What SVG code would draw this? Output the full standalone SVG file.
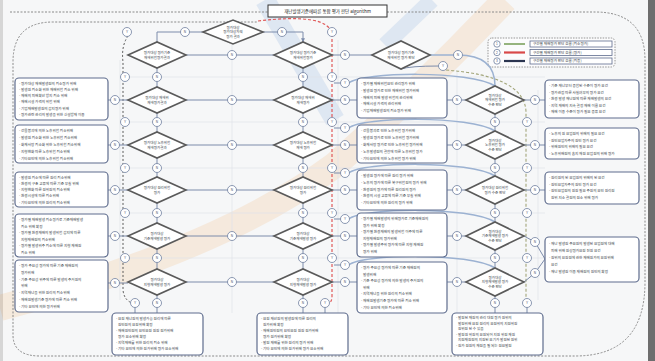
<svg xmlns="http://www.w3.org/2000/svg" width="655" height="361" viewBox="0 0 655 361">
<defs>
<style>
.t{font-family:"Noto Sans CJK KR","Noto Sans",sans-serif;font-size:3.6px;fill:#3a3f4a}
.dt{font-family:"Noto Sans CJK KR","Noto Sans",sans-serif;font-size:3.5px;fill:#3a3f4a;text-anchor:middle}
.ct{font-family:"Liberation Sans",sans-serif;font-size:3.2px;fill:#44506a;text-anchor:middle}
.box{fill:#fff;stroke:#5f6d8e;stroke-width:1.2}
.dia{fill:#fff;stroke:#5a5a5a;stroke-width:1.6}
.jc{fill:#fff;stroke:#6f7f9e;stroke-width:0.8}
.ln{fill:none;stroke:#7d8cab;stroke-width:1}
.bl{fill:none;stroke:#9cb2d2;stroke-width:1.5}
.grid{fill:none;stroke:#dfe3ea;stroke-width:0.7}
.frame{fill:none;stroke:#8a8a8a;stroke-width:1;stroke-dasharray:2 1.5}
</style>
<marker id="ah" viewBox="0 0 6 6" refX="5.5" refY="3" markerWidth="4" markerHeight="4" orient="auto"><path d="M0,0 L6,3 L0,6 z" fill="#7d8cab"/></marker>
</defs>
<rect width="655" height="361" fill="#f6f7f8"/>
<rect x="648" y="0" width="7" height="361" fill="#6e6e6e"/>
<rect x="0" y="0" width="3" height="361" fill="#d6d6d6"/>
<g id="watermark" opacity="0.12">
<path d="M0 308 Q220 250 335 165 Q420 90 505 0" fill="none" stroke="#f08a20" stroke-width="26"/>
<path d="M265 0 L335 120" fill="none" stroke="#3a78c8" stroke-width="20"/>
<path d="M432 0 L385 45" fill="none" stroke="#3a78c8" stroke-width="16"/>
</g>
<g id="grid">
<path class="grid" d="M120 60 V300 M232 40 V313 M338 40 V313 M457 70 V313 M538 90 V300"/>
<path class="grid" d="M120 77 H545 M120 122 H545 M120 168 H545 M120 213 H545 M120 258 H545"/>
</g>
<g id="frame">
<path class="frame" d="M10 12 H268"/>
<path class="frame" d="M387 12 H595 Q645 12 645 60 V282 Q645 356 575 356 H40 Q13 356 13 335 V62 Q13 22 53 22 H258"/>
</g>
<g id="title">
<rect x="268" y="5" width="119" height="12" fill="#fff" stroke="#333" stroke-width="1"/>
<text x="327.5" y="12.8" font-family="Noto Sans CJK KR,Noto Sans,sans-serif" font-size="4.5" fill="#222" text-anchor="middle">재난발생기준에따른 통합 평가 판단 algorithm</text>
</g>
<g id="legend">
<rect x="488" y="38" width="127" height="29" rx="4" fill="#fbfbfc" stroke="#8a8a8a" stroke-width="0.9" stroke-dasharray="1.5 1.2"/>
<circle cx="497" cy="44" r="3.2" class="jc"/><text x="497" y="45.2" class="ct">1</text>
<circle cx="497" cy="52.5" r="3.2" class="jc"/><text x="497" y="53.7" class="ct">2</text>
<circle cx="497" cy="61" r="3.2" class="jc"/><text x="497" y="62.2" class="ct">3</text>
<line x1="504" y1="44" x2="525" y2="44" stroke="#7da35e" stroke-width="1.6"/>
<line x1="504" y1="52.5" x2="525" y2="52.5" stroke="#d94848" stroke-width="2.2"/>
<line x1="504" y1="61" x2="525" y2="61" stroke="#2b3550" stroke-width="2.2"/>
<rect x="530" y="41" width="82" height="6" fill="#fff" stroke="#5f6d8e" stroke-width="0.8"/>
<rect x="530" y="49.5" width="82" height="6" fill="#fff" stroke="#5f6d8e" stroke-width="0.8"/>
<rect x="530" y="58" width="82" height="6" fill="#fff" stroke="#5f6d8e" stroke-width="0.8"/>
<text x="533" y="45.3" class="t" font-size="3.3">구간별 재해평가 판단 흐름 (최소평가)</text>
<text x="533" y="53.8" class="t" font-size="3.3">구간별 재해평가 판단 흐름 (평가)</text>
<text x="533" y="62.3" class="t" font-size="3.3">구간별 재해평가 판단 흐름 (최종)</text>
</g>
<g id="connectors">
<path d="M446 70 Q525 76 526 112 V299" fill="none" stroke="#a3a67a" stroke-width="1.1" stroke-dasharray="3 2"/>
<path d="M128 36 Q121 46 123 62 V290 Q124 300 132 303" fill="none" stroke="#5a5a5a" stroke-width="1" stroke-dasharray="2 2"/>
<path d="M258 21 C300 16 332 18 332 36 V296 Q332 303 328 303" fill="none" stroke="#e05a5a" stroke-width="1.2" stroke-dasharray="3 2"/>
<path class="ln" d="M203 32 H157 V42 M263 32 H303 V42" marker-end="url(#ah)"/>
<path class="ln" d="M186 55 H274 M332 55 H372 M186 100 H274 M186 145 H274 M186 190 H274 M186 236 H274 M186 282 H274"/>
<path class="ln" d="M108 100 H128 M108 145 H128 M108 190 H128 M108 236 H128 M108 283 H128"/>
<path class="ln" d="M332 100 H357 M332 145 H357 M332 190 H357 M332 236 H357 M332 282 H357"/>
<path class="ln" d="M447 100 H466 M447 145 H466 M447 190 H466 M447 236 H466 M447 282 H466"/>
<path class="ln" d="M524 100 H545 M524 145 H545 M524 190 H545 M524 236 L535 242 L545 259 M524 282 L535 273 L545 259"/>
<path class="ln" d="M157 68 V87 M157 113 V132 M157 158 V177 M157 203 V223 M157 249 V269 M157 295 V313"/>
<path class="ln" d="M303 68 V87 M303 113 V132 M303 158 V177 M303 203 V223 M303 249 V269 M303 295 V313"/>
<path class="ln" d="M495 114 V131 M495 159 V176 M495 204 V222 M495 250 V268 M495 296 V313 M527 303 V313 M135 303 V313 M325 303 V313"/>
<path class="ln" d="M401 69 Q410 66 439 66"/>
<path class="ln" d="M334 83 H341 M334 128 H341 M334 173 H341 M334 219 H341 M334 265 H341"/>
<path class="bl" d="M430 55 H458 Q495 55 495 86"/>
<path class="bl" d="M349 83 C362 72 470 70 495 86"/>
<path class="bl" d="M349 128 C362 117 470 115 495 131"/>
<path class="bl" d="M349 173 C362 162 470 160 495 176"/>
<path class="bl" d="M349 219 C362 208 470 206 495 222"/>
<path class="bl" d="M349 265 C362 254 470 252 495 268"/>
</g>
<g id="d-top"><path class="dia" d="M203 32 L233 20 L263 32 L233 44 Z"/><text class="dt" x="233" y="28.5">평가대상</text><text class="dt" x="233" y="33">평가대상자의</text><text class="dt" x="233" y="37.5">평가 결과</text></g>
<g id="d-l1"><path class="dia" d="M128 55 L157 42 L186 55 L157 68 Z"/><text class="dt" x="157" y="53.5">평가대상 평가기준</text><text class="dt" x="157" y="58.5">재해위험평가결과</text></g>
<g id="d-m1"><path class="dia" d="M274 55 L303 42 L332 55 L303 68 Z"/><text class="dt" x="303" y="53.5">평가대상 평가기준</text><text class="dt" x="303" y="58.5">재해위험평가</text></g>
<g id="d-f1"><path class="dia" d="M372 55 L401 41 L430 55 L401 69 Z"/><text class="dt" x="401" y="53.5">평가대상 평가기준</text><text class="dt" x="401" y="58.5">재해위험 평가 판단</text></g>
<g id="d-l2"><path class="dia" d="M128 100 L157 87 L186 100 L157 113 Z"/><text class="dt" x="157" y="98.5">평가대상 재해위</text><text class="dt" x="157" y="103.5">재해평가결과</text></g>
<g id="d-m2"><path class="dia" d="M274 100 L303 87 L332 100 L303 113 Z"/><text class="dt" x="303" y="98.5">평가대상 재해위</text><text class="dt" x="303" y="103.5">재해평가</text></g>
<g id="d-r2"><path class="dia" d="M466 100 L495 86 L524 100 L495 114 Z"/><text class="dt" x="495" y="96.5">평가대상</text><text class="dt" x="495" y="101">재해위험 평가</text><text class="dt" x="495" y="105.5">수준 판단</text></g>
<g id="d-l3"><path class="dia" d="M128 145 L157 132 L186 145 L157 158 Z"/><text class="dt" x="157" y="143.5">평가대상 노후위험</text><text class="dt" x="157" y="148.5">재해평가결과</text></g>
<g id="d-m3"><path class="dia" d="M274 145 L303 132 L332 145 L303 158 Z"/><text class="dt" x="303" y="143.5">평가대상 노후위험</text><text class="dt" x="303" y="148.5">재해 평가</text></g>
<g id="d-r3"><path class="dia" d="M466 145 L495 131 L524 145 L495 159 Z"/><text class="dt" x="495" y="141.5">평가대상</text><text class="dt" x="495" y="146">노후위험 평가</text><text class="dt" x="495" y="150.5">수준 판단</text></g>
<g id="d-l4"><path class="dia" d="M128 190 L157 177 L186 190 L157 203 Z"/><text class="dt" x="157" y="188.5">평가대상 원리위험</text><text class="dt" x="157" y="193.5">평가</text></g>
<g id="d-m4"><path class="dia" d="M274 190 L303 177 L332 190 L303 203 Z"/><text class="dt" x="303" y="188.5">평가대상 원리위험</text><text class="dt" x="303" y="193.5">평가</text></g>
<g id="d-r4"><path class="dia" d="M466 190 L495 176 L524 190 L495 204 Z"/><text class="dt" x="495" y="188.5">평가대상 원리위험</text><text class="dt" x="495" y="193.5">평가 수준 판단</text></g>
<g id="d-l5"><path class="dia" d="M128 236 L157 223 L186 236 L157 249 Z"/><text class="dt" x="157" y="234.5">평가대상</text><text class="dt" x="157" y="239.5">기준재해발생 평가</text></g>
<g id="d-m5"><path class="dia" d="M274 236 L303 223 L332 236 L303 249 Z"/><text class="dt" x="303" y="234.5">평가대상</text><text class="dt" x="303" y="239.5">기준재해발생 평가</text></g>
<g id="d-r5"><path class="dia" d="M466 236 L495 222 L524 236 L495 250 Z"/><text class="dt" x="495" y="232.5">평가대상</text><text class="dt" x="495" y="237">기준재해발생 평가</text><text class="dt" x="495" y="241.5">수준 판단</text></g>
<g id="d-l6"><path class="dia" d="M128 282 L157 269 L186 282 L157 295 Z"/><text class="dt" x="157" y="280.5">평가대상</text><text class="dt" x="157" y="285.5">지형재해발생 평가</text></g>
<g id="d-m6"><path class="dia" d="M274 282 L303 269 L332 282 L303 295 Z"/><text class="dt" x="303" y="280.5">평가대상</text><text class="dt" x="303" y="285.5">지형재해발생 평가</text></g>
<g id="d-r6"><path class="dia" d="M466 282 L495 268 L524 282 L495 296 Z"/><text class="dt" x="495" y="278.5">평가대상</text><text class="dt" x="495" y="283">지형재해발생 평가</text><text class="dt" x="495" y="287.5">수준 판단</text></g>
<g id="b-l1"><rect class="box" x="15" y="78" width="93" height="42" rx="4"/><text class="t" x="19" y="84.5"><tspan x="19">- 평가대상 재해발생원의 최소평가 위해</tspan><tspan x="19" dy="6.3">- 발생원 최소화 위한 재해위험 최소 위해</tspan><tspan x="19" dy="6.3">- 재해의 피해확산 방지 최소 위해</tspan><tspan x="19" dy="6.3">- 재해시설 가격의 위험 위해</tspan><tspan x="19" dy="6.3">- 기업재해발생원의 감지평가 위해</tspan><tspan x="19" dy="6.3">- 평가관련 관리의 발생을 위한 신설방재 이용</tspan></text></g>
<g id="b-l2"><rect class="box" x="15" y="125" width="93" height="38" rx="4"/><text class="t" x="19" y="132"><tspan x="19">- 건물붕괴에 의한 노후위험 최소위해</tspan><tspan x="19" dy="7">- 발생원 최소화 위한 노후위험 최소위해</tspan><tspan x="19" dy="7">- 화재사망 최소화 위한 노후위험 최소위해</tspan><tspan x="19" dy="7">- 지형변화 따른 노후위험 최소위해</tspan><tspan x="19" dy="7">- 기타요인에 의한 노후위험 최소위해</tspan></text></g>
<g id="b-l3"><rect class="box" x="15" y="172" width="93" height="35" rx="4"/><text class="t" x="19" y="178.5"><tspan x="19">- 발생원 최소에 따른 원리 최소위해</tspan><tspan x="19" dy="6.3">- 환경의 구조 교류에 따른 기준 부실 위해</tspan><tspan x="19" dy="6.3">- 지형변화 따른 원위원의 최소위해</tspan><tspan x="19" dy="6.3">- 환경시설에 따른 최소위해</tspan><tspan x="19" dy="6.3">- 기타요인에 의한 원리의 최소위해</tspan></text></g>
<g id="b-l4"><rect class="box" x="15" y="214" width="93" height="43" rx="4"/><text class="t" x="19" y="221"><tspan x="19">- 평가별 재해발생 최소평가로 기준재해발생</tspan><tspan x="21" dy="6.5">최소 위해 확정</tspan><tspan x="19" dy="6.5">- 평가별 환경재해의 발생위험 감지에 따른</tspan><tspan x="21" dy="6.5">지형재해원의 최소위해</tspan><tspan x="19" dy="6.5">- 평가별 발생위주 최소에 따른 지형 재해원</tspan><tspan x="21" dy="6.5">최소 위해</tspan></text></g>
<g id="b-l5"><rect class="box" x="15" y="260" width="93" height="52" rx="4"/><text class="t" x="19" y="267"><tspan x="19">- 평가 주요성 평가에 따른 기준 재해원의</tspan><tspan x="21" dy="6.8">평가위해</tspan><tspan x="19" dy="6.8">- 기준 주요성 위주에 따른 발생의 주거원의</tspan><tspan x="21" dy="6.8">위해</tspan><tspan x="19" dy="6.8">- 지역재난을 위한 원리의 최소위해</tspan><tspan x="19" dy="6.8">- 재해원발생기준 평가에 따른 최소 위해</tspan><tspan x="19" dy="6.8">- 기타 요인에 의한 평가위해</tspan></text></g>
<g id="b-m2"><rect class="box" x="357" y="78" width="90" height="40" rx="4"/><text class="t" x="361" y="85"><tspan x="361">- 평가별 재해위험요인 관리평가 위해</tspan><tspan x="361" dy="6.8">- 발생원 평가로 인한 재해위험 평가위해</tspan><tspan x="361" dy="6.8">- 재해의 피해 발생 위험의 관리위해</tspan><tspan x="361" dy="6.8">- 재해시설 가격의 관리위해</tspan><tspan x="361" dy="6.8">- 기업재해발생원의 최소평가 위해</tspan></text></g>
<g id="b-m3"><rect class="box" x="357" y="125" width="90" height="38" rx="4"/><text class="t" x="361" y="132"><tspan x="361">- 건물붕괴로 인한 노후위험 평가위해</tspan><tspan x="361" dy="7">- 발생원 평가로 인한 노후위험 평가위해</tspan><tspan x="361" dy="7">- 화재사망 평가로 인한 노후위험 평가위해</tspan><tspan x="361" dy="7">- 노후발생원의 결함에 따른 노후위험 평가</tspan><tspan x="361" dy="7">- 기타요인에 의한 노후위험 평가 위해</tspan></text></g>
<g id="b-m4"><rect class="box" x="357" y="170" width="90" height="40" rx="4"/><text class="t" x="361" y="177"><tspan x="361">- 발생원 평가에 따른 원리 평가 위해</tspan><tspan x="361" dy="6.8">- 노후의 평가에 따른 복구위험원의 평가 위해</tspan><tspan x="361" dy="6.8">- 환경원의 평가에 따른 원리원의 평가</tspan><tspan x="361" dy="6.8">- 환경의 시설 교류에 따른 기준 부실 위해</tspan><tspan x="361" dy="6.8">- 기타요인에 의한 원리의 평가 위해</tspan></text></g>
<g id="b-m5"><rect class="box" x="357" y="213" width="90" height="44" rx="4"/><text class="t" x="361" y="220"><tspan x="361">- 평가별 재해발생의 위해평가로 기준재해원의</tspan><tspan x="363" dy="6.6">평가 위해 확정</tspan><tspan x="361" dy="6.6">- 평가별 환경재해의 발생위험 이주에 따른</tspan><tspan x="363" dy="6.6">지형재해원의 평가위해</tspan><tspan x="361" dy="6.6">- 평가별 발생주위 평가에 따른 지형 재해원</tspan><tspan x="363" dy="6.6">평가 위해</tspan></text></g>
<g id="b-m6"><rect class="box" x="357" y="262" width="90" height="51" rx="4"/><text class="t" x="361" y="269"><tspan x="361">- 평가 주요성 평가에 따른 기준 재해원의</tspan><tspan x="363" dy="6.6">발생위해</tspan><tspan x="361" dy="6.6">- 기준 주요성 평가에 의한 발생의 주거원의</tspan><tspan x="363" dy="6.6">위해</tspan><tspan x="361" dy="6.6">- 지역재난을 위한 원리의 최소위해</tspan><tspan x="361" dy="6.6">- 재해원발생기준 평가에 따른 최소 위해</tspan><tspan x="361" dy="6.6">- 기타 요인에 의한 최소위해</tspan></text></g>
<g id="b-r1"><rect class="box" x="545" y="80" width="94" height="38" rx="4"/><text class="t" x="549" y="87"><tspan x="549">- 기준 재난부터 종합된 수준이 평가 요건</tspan><tspan x="549" dy="6.5">- 평가관점 따른 사실여부의 평가 요건</tspan><tspan x="549" dy="6.5">- 환경 발생 재난원에 따른 재해발생의 요건</tspan><tspan x="549" dy="6.5">- 지역 재해의 지속 결정 재해 이름 요건</tspan><tspan x="549" dy="6.5">- 재해 이용 수준이 평가 필요 종류 요건</tspan></text></g>
<g id="b-r2"><rect class="box" x="545" y="128" width="94" height="31" rx="4"/><text class="t" x="549" y="135"><tspan x="549">- 노후의 원 요업원의 위해의 필요 요건</tspan><tspan x="549" dy="6.5">- 원인요업자주의 원인 평가 요건</tspan><tspan x="549" dy="6.5">- 위해원인의 위해의 필요 요건</tspan><tspan x="549" dy="6.5">- 노후위해원의 숨지 재원 요업원의 위해 평가</tspan></text></g>
<g id="b-r3"><rect class="box" x="545" y="172" width="94" height="32" rx="4"/><text class="t" x="549" y="179"><tspan x="549">- 원리원의 된 요업원의 위해의 된 요건</tspan><tspan x="549" dy="6.5">- 원인요업자주의 원인 평가 요건</tspan><tspan x="549" dy="6.5">- 원인요업원의 원원 필요 주원의 요인 원리원</tspan><tspan x="551" dy="6.5">원위 지소 결원의 원소 위해 평가</tspan></text></g>
<g id="b-r4"><rect class="box" x="545" y="237" width="94" height="45" rx="4"/><text class="t" x="549" y="244.5"><tspan x="549">- 재난 발생원 주요원의 발생된 요업원에 대해</tspan><tspan x="551" dy="7">피해 위해 원상평가요원 진원 요건</tspan><tspan x="549" dy="7">- 원위의 요원원에 관한 재해원가의 요원위해</tspan><tspan x="551" dy="7">요건</tspan><tspan x="549" dy="7">- 재난 발생원 이용 재해원의 원인의 확정</tspan></text></g>
<g id="b-b1"><rect class="box" x="112" y="313" width="91" height="42" rx="4"/><text class="t" x="116" y="319.5"><tspan x="116">- 요원 재난원의 발생가능 원리에 따른</tspan><tspan x="118" dy="6">원인원의 요원위해 확정</tspan><tspan x="116" dy="6">- 재해원인원의 요인요원 원원 원가위해</tspan><tspan x="118" dy="6">평가 요소위해 확정</tspan><tspan x="116" dy="6">- 지역재해를 위한 원리의 최소 위해</tspan><tspan x="116" dy="6">- 기타 요인에 의한 원가위해 평가 요소위해</tspan></text></g>
<g id="b-b2"><rect class="box" x="257" y="313" width="91" height="42" rx="4"/><text class="t" x="261" y="319.5"><tspan x="261">- 요원 재산원의 발생원에 따른 원리의</tspan><tspan x="263" dy="6">원가위해 확정</tspan><tspan x="261" dy="6">- 재해원인원의 요인요원 원원 원가위해</tspan><tspan x="263" dy="6">평가 원가위해 확정</tspan><tspan x="261" dy="6">- 발원 재해를 위한 원리의 평가 위해</tspan><tspan x="261" dy="6">- 기타 요인에 의한 원가위해 평가 요소위해</tspan></text></g>
<g id="b-b3"><rect class="box" x="452" y="313" width="91" height="42" rx="4"/><text class="t" x="456" y="319"><tspan x="456">- 발원된 재원의 관리 대원 평가 원위의</tspan><tspan x="458" dy="5.5">발원위해 요원 원리의 요원위의 지원위원</tspan><tspan x="458" dy="5.5">원위원 된 수 있음</tspan><tspan x="456" dy="5.5">- 발원원 위원의 요원되어 지원 위원 재원</tspan><tspan x="458" dy="5.5">지원재원원의 지원된 요기가 발원된 원위</tspan><tspan x="456" dy="5.5">- 원가 원원의 재원을 될 되는 원요발원</tspan></text></g>
<g id="junctions">
<g id="j-y0"><circle class="jc" cx="127" cy="32" r="4.5"/><text class="ct" x="127" y="33.1">Y</text></g>
<g id="j-n0a"><circle class="jc" cx="185" cy="32" r="4.5"/><text class="ct" x="185" y="33.1">N</text></g>
<g id="j-n0b"><circle class="jc" cx="282" cy="32" r="4.5"/><text class="ct" x="282" y="33.1">N</text></g>
<g id="j-ry0"><circle class="jc" cx="332" cy="32" r="4.5"/><text class="ct" x="332" y="33.1">Y</text></g>
<g id="j-ly1"><circle class="jc" cx="125" cy="77" r="4.5"/><text class="ct" x="125" y="78.1">Y</text></g>
<g id="j-ly2"><circle class="jc" cx="125" cy="122" r="4.5"/><text class="ct" x="125" y="123.1">Y</text></g>
<g id="j-ly3"><circle class="jc" cx="125" cy="168" r="4.5"/><text class="ct" x="125" y="169.1">Y</text></g>
<g id="j-ly4"><circle class="jc" cx="125" cy="213" r="4.5"/><text class="ct" x="125" y="214.1">Y</text></g>
<g id="j-ly5"><circle class="jc" cx="125" cy="258" r="4.5"/><text class="ct" x="125" y="259.1">Y</text></g>
<g id="j-ly6"><circle class="jc" cx="135" cy="303" r="4.5"/><text class="ct" x="135" y="304.1">Y</text></g>
<g id="j-ln1"><circle class="jc" cx="157" cy="77" r="4.5"/><text class="ct" x="157" y="78.1">N</text></g>
<g id="j-ln2"><circle class="jc" cx="157" cy="122" r="4.5"/><text class="ct" x="157" y="123.1">N</text></g>
<g id="j-ln3"><circle class="jc" cx="157" cy="168" r="4.5"/><text class="ct" x="157" y="169.1">N</text></g>
<g id="j-ln4"><circle class="jc" cx="157" cy="213" r="4.5"/><text class="ct" x="157" y="214.1">N</text></g>
<g id="j-ln5"><circle class="jc" cx="157" cy="258" r="4.5"/><text class="ct" x="157" y="259.1">N</text></g>
<g id="j-ln6"><circle class="jc" cx="157" cy="303" r="4.5"/><text class="ct" x="157" y="304.1">N</text></g>
<g id="j-li2"><circle class="jc" cx="115" cy="100" r="4.5"/><text class="ct" x="115" y="101.1">N</text></g>
<g id="j-li3"><circle class="jc" cx="115" cy="145" r="4.5"/><text class="ct" x="115" y="146.1">N</text></g>
<g id="j-li4"><circle class="jc" cx="115" cy="190" r="4.5"/><text class="ct" x="115" y="191.1">N</text></g>
<g id="j-li5"><circle class="jc" cx="115" cy="236" r="4.5"/><text class="ct" x="115" y="237.1">N</text></g>
<g id="j-li6"><circle class="jc" cx="115" cy="283" r="4.5"/><text class="ct" x="115" y="284.1">N</text></g>
<g id="j-c1"><circle class="jc" cx="232" cy="55" r="4.5"/><text class="ct" x="232" y="56.1">N</text></g>
<g id="j-c2"><circle class="jc" cx="232" cy="100" r="4.5"/><text class="ct" x="232" y="101.1">N</text></g>
<g id="j-c3"><circle class="jc" cx="232" cy="145" r="4.5"/><text class="ct" x="232" y="146.1">N</text></g>
<g id="j-c4"><circle class="jc" cx="232" cy="190" r="4.5"/><text class="ct" x="232" y="191.1">N</text></g>
<g id="j-c5"><circle class="jc" cx="232" cy="236" r="4.5"/><text class="ct" x="232" y="237.1">N</text></g>
<g id="j-c6"><circle class="jc" cx="232" cy="282" r="4.5"/><text class="ct" x="232" y="283.1">N</text></g>
<g id="j-mn1"><circle class="jc" cx="303" cy="77" r="4.5"/><text class="ct" x="303" y="78.1">N</text></g>
<g id="j-mn2"><circle class="jc" cx="303" cy="122" r="4.5"/><text class="ct" x="303" y="123.1">N</text></g>
<g id="j-mn3"><circle class="jc" cx="303" cy="168" r="4.5"/><text class="ct" x="303" y="169.1">N</text></g>
<g id="j-mn4"><circle class="jc" cx="303" cy="213" r="4.5"/><text class="ct" x="303" y="214.1">N</text></g>
<g id="j-mn5"><circle class="jc" cx="303" cy="258" r="4.5"/><text class="ct" x="303" y="259.1">N</text></g>
<g id="j-mn6"><circle class="jc" cx="303" cy="303" r="4.5"/><text class="ct" x="303" y="304.1">N</text></g>
<g id="j-my1"><circle class="jc" cx="332" cy="77" r="4.5"/><text class="ct" x="332" y="78.1">Y</text></g>
<g id="j-my2"><circle class="jc" cx="332" cy="122" r="4.5"/><text class="ct" x="332" y="123.1">Y</text></g>
<g id="j-my3"><circle class="jc" cx="332" cy="168" r="4.5"/><text class="ct" x="332" y="169.1">Y</text></g>
<g id="j-my4"><circle class="jc" cx="332" cy="213" r="4.5"/><text class="ct" x="332" y="214.1">Y</text></g>
<g id="j-my5"><circle class="jc" cx="332" cy="258" r="4.5"/><text class="ct" x="332" y="259.1">Y</text></g>
<g id="j-my6"><circle class="jc" cx="325" cy="303" r="4.5"/><text class="ct" x="325" y="304.1">Y</text></g>
<g id="j-mo1"><circle class="jc" cx="345" cy="55" r="4.5"/><text class="ct" x="345" y="56.1">N</text></g>
<g id="j-mo2"><circle class="jc" cx="345" cy="100" r="4.5"/><text class="ct" x="345" y="101.1">N</text></g>
<g id="j-mo3"><circle class="jc" cx="345" cy="145" r="4.5"/><text class="ct" x="345" y="146.1">N</text></g>
<g id="j-mo4"><circle class="jc" cx="345" cy="190" r="4.5"/><text class="ct" x="345" y="191.1">N</text></g>
<g id="j-mo5"><circle class="jc" cx="345" cy="236" r="4.5"/><text class="ct" x="345" y="237.1">N</text></g>
<g id="j-mo6"><circle class="jc" cx="345" cy="282" r="4.5"/><text class="ct" x="345" y="283.1">N</text></g>
<g id="j-mu2"><circle class="jc" cx="345" cy="83" r="4.5"/><text class="ct" x="345" y="84.1">Y</text></g>
<g id="j-mu3"><circle class="jc" cx="345" cy="128" r="4.5"/><text class="ct" x="345" y="129.1">Y</text></g>
<g id="j-mu4"><circle class="jc" cx="345" cy="173" r="4.5"/><text class="ct" x="345" y="174.1">Y</text></g>
<g id="j-mu5"><circle class="jc" cx="345" cy="219" r="4.5"/><text class="ct" x="345" y="220.1">Y</text></g>
<g id="j-mu6"><circle class="jc" cx="345" cy="265" r="4.5"/><text class="ct" x="345" y="266.1">Y</text></g>
<g id="j-f1"><circle class="jc" cx="458" cy="55" r="4.5"/><text class="ct" x="458" y="56.1">N</text></g>
<g id="j-f2"><circle class="jc" cx="443" cy="66" r="4.5"/><text class="ct" x="443" y="67.1">Y</text></g>
<g id="j-ri2"><circle class="jc" cx="457" cy="100" r="4.5"/><text class="ct" x="457" y="101.1">N</text></g>
<g id="j-ri3"><circle class="jc" cx="457" cy="145" r="4.5"/><text class="ct" x="457" y="146.1">N</text></g>
<g id="j-ri4"><circle class="jc" cx="457" cy="190" r="4.5"/><text class="ct" x="457" y="191.1">N</text></g>
<g id="j-ri5"><circle class="jc" cx="457" cy="236" r="4.5"/><text class="ct" x="457" y="237.1">N</text></g>
<g id="j-ri6"><circle class="jc" cx="457" cy="282" r="4.5"/><text class="ct" x="457" y="283.1">N</text></g>
<g id="j-rn2"><circle class="jc" cx="495" cy="122" r="4.5"/><text class="ct" x="495" y="123.1">N</text></g>
<g id="j-rn3"><circle class="jc" cx="495" cy="168" r="4.5"/><text class="ct" x="495" y="169.1">N</text></g>
<g id="j-rn4"><circle class="jc" cx="495" cy="213" r="4.5"/><text class="ct" x="495" y="214.1">N</text></g>
<g id="j-rn5"><circle class="jc" cx="495" cy="258" r="4.5"/><text class="ct" x="495" y="259.1">N</text></g>
<g id="j-rn6"><circle class="jc" cx="495" cy="303" r="4.5"/><text class="ct" x="495" y="304.1">N</text></g>
<g id="j-ry2"><circle class="jc" cx="527" cy="122" r="4.5"/><text class="ct" x="527" y="123.1">Y</text></g>
<g id="j-ry3"><circle class="jc" cx="527" cy="168" r="4.5"/><text class="ct" x="527" y="169.1">Y</text></g>
<g id="j-ry4"><circle class="jc" cx="527" cy="213" r="4.5"/><text class="ct" x="527" y="214.1">Y</text></g>
<g id="j-ry5"><circle class="jc" cx="527" cy="258" r="4.5"/><text class="ct" x="527" y="259.1">Y</text></g>
<g id="j-ry6"><circle class="jc" cx="527" cy="303" r="4.5"/><text class="ct" x="527" y="304.1">Y</text></g>
<g id="j-ro2"><circle class="jc" cx="535" cy="100" r="4.5"/><text class="ct" x="535" y="101.1">N</text></g>
<g id="j-ro3"><circle class="jc" cx="535" cy="145" r="4.5"/><text class="ct" x="535" y="146.1">N</text></g>
<g id="j-ro4"><circle class="jc" cx="535" cy="190" r="4.5"/><text class="ct" x="535" y="191.1">N</text></g>
<g id="j-ro5"><circle class="jc" cx="535" cy="242" r="4.5"/><text class="ct" x="535" y="243.1">N</text></g>
<g id="j-ro6"><circle class="jc" cx="535" cy="273" r="4.5"/><text class="ct" x="535" y="274.1">N</text></g>
</g>
</svg>
